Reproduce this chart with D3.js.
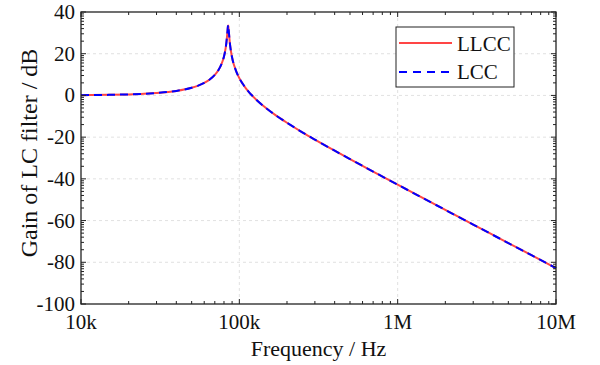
<!DOCTYPE html>
<html>
<head>
<meta charset="utf-8">
<script src="https://cdn.jsdelivr.net/npm/d3@7"></script>
<style>
  html, body { margin: 0; padding: 0; background: #fff; }
  svg { display: block; }
  text { font-family: "Liberation Serif", "Times New Roman", serif; fill: #111; }
</style>
</head>
<body>
<svg id="chart" width="600" height="365"></svg>
<script>
// ---- data ----
const freqHz = [10000, 15000, 20000, 25000, 30000, 40000, 50000, 55000, 60000, 65000, 70000, 74000, 77000, 78500, 80000, 82000, 83000, 84000, 84500, 84750, 85000, 85250, 85500, 86000, 87000, 88000, 90000, 92000, 93000, 96000, 100000, 105000, 110000, 115000, 120000, 130000, 150000, 170000, 200000, 250000, 300000, 400000, 500000, 700000, 1000000, 2000000, 3000000, 5000000, 7000000, 10000000];
const gainLLCC = [0.12, 0.28, 0.50, 0.79, 1.16, 2.17, 3.69, 4.71, 5.99, 7.63, 9.84, 12.3, 14.9, 16.6, 18.7, 22.8, 25.8, 30.0, 32.2, 33.0, 33.5, 33.0, 32.1, 29.8, 25.6, 22.5, 18.2, 15.2, 14.1, 11.2, 8.3, 5.6, 3.4, 1.6, 0.06, -2.54, -6.5, -9.54, -13.1, -17.7, -21.2, -26.5, -30.5, -36.5, -42.8, -54.9, -61.9, -70.8, -76.6, -82.8];
const gainLCC  = [0.12, 0.28, 0.50, 0.79, 1.16, 2.17, 3.69, 4.71, 5.99, 7.63, 9.84, 12.3, 14.9, 16.6, 18.7, 22.8, 25.9, 30.1, 32.4, 33.3, 33.8, 33.2, 32.3, 29.9, 25.6, 22.5, 18.2, 15.2, 14.1, 11.2, 8.3, 5.6, 3.4, 1.6, 0.06, -2.54, -6.5, -9.54, -13.1, -17.7, -21.2, -26.5, -30.5, -36.5, -42.8, -54.9, -61.9, -70.8, -76.6, -82.8];
const xTickValues = [1e4, 1e5, 1e6, 1e7];
const xTickLabels = ["10k", "100k", "1M", "10M"];
const yTickValues = [40, 20, 0, -20, -40, -60, -80, -100];
const seriesNames = ["LLCC", "LCC"];

// ---- layout ----
const svg = d3.select("#chart");
const L = 81, R = 556, T = 12, B = 304;
const x = d3.scaleLog().domain([1e4, 1e7]).range([L, R]);
const y = d3.scaleLinear().domain([-100, 40]).range([B, T]);

// grid
const grid = svg.append("g").attr("stroke", "#d9d9d9").attr("stroke-width", 0.8).attr("stroke-dasharray", "3,3");
xTickValues.slice(1, -1).forEach(v => {
  grid.append("line").attr("x1", x(v)).attr("x2", x(v)).attr("y1", T).attr("y2", B);
});
yTickValues.slice(1, -1).forEach(v => {
  grid.append("line").attr("x1", L).attr("x2", R).attr("y1", y(v)).attr("y2", y(v));
});

// curves
const pts = (g) => freqHz.map((f, i) => [f, g[i]]);
const line = d3.line().x(d => x(d[0])).y(d => y(d[1])).curve(d3.curveMonotoneX);
svg.append("path").datum(pts(gainLLCC)).attr("d", line)
  .attr("fill", "none").attr("stroke", "#ff4545").attr("stroke-width", 2);
svg.append("path").datum(pts(gainLCC)).attr("d", line)
  .attr("fill", "none").attr("stroke", "#0000ff").attr("stroke-width", 2)
  .attr("stroke-dasharray", "8,5");

// axes with inward ticks
const tickG = svg.append("g").attr("stroke", "#222").attr("stroke-width", 1);
const xMinor = [];
for (let e = 4; e < 7; e++) for (let k = 2; k <= 9; k++) xMinor.push(k * Math.pow(10, e));
xTickValues.forEach(v => {
  tickG.append("line").attr("x1", x(v)).attr("x2", x(v)).attr("y1", B).attr("y2", B - 5);
  tickG.append("line").attr("x1", x(v)).attr("x2", x(v)).attr("y1", T).attr("y2", T + 5);
});
xMinor.forEach(v => {
  tickG.append("line").attr("x1", x(v)).attr("x2", x(v)).attr("y1", B).attr("y2", B - 3);
  tickG.append("line").attr("x1", x(v)).attr("x2", x(v)).attr("y1", T).attr("y2", T + 3);
});
const yMinor = [];
yTickValues.slice(0, -1).forEach(top => {
  for (let k = 2; k <= 9; k++) yMinor.push(top - 20 * (1 - Math.log10(k)));
});
yTickValues.forEach(v => {
  tickG.append("line").attr("x1", L).attr("x2", L + 5).attr("y1", y(v)).attr("y2", y(v));
  tickG.append("line").attr("x1", R).attr("x2", R - 5).attr("y1", y(v)).attr("y2", y(v));
});
yMinor.forEach(v => {
  tickG.append("line").attr("x1", L).attr("x2", L + 3).attr("y1", y(v)).attr("y2", y(v));
  tickG.append("line").attr("x1", R).attr("x2", R - 3).attr("y1", y(v)).attr("y2", y(v));
});

// frame
svg.append("rect").attr("x", L).attr("y", T).attr("width", R - L).attr("height", B - T)
  .attr("fill", "none").attr("stroke", "#222").attr("stroke-width", 1.3);

// tick labels
svg.append("g").selectAll("text").data(xTickValues).join("text")
  .attr("x", d => x(d)).attr("y", 329).attr("text-anchor", "middle")
  .attr("font-size", 21).text((d, i) => xTickLabels[i]);
svg.append("g").selectAll("text").data(yTickValues).join("text")
  .attr("x", 75).attr("y", d => y(d) + 7).attr("text-anchor", "end")
  .attr("font-size", 21).text(d => d);

// axis titles
svg.append("text").attr("x", (L + R) / 2).attr("y", 356).attr("text-anchor", "middle")
  .attr("font-size", 22).text("Frequency / Hz");
svg.append("text").attr("transform", "translate(37," + 153 + ") rotate(-90)")
  .attr("text-anchor", "middle").attr("font-size", 24).text("Gain of LC filter / dB");

// legend
const lg = svg.append("g");
lg.append("rect").attr("x", 396).attr("y", 27).attr("width", 118).attr("height", 60)
  .attr("fill", "#fff").attr("stroke", "#222").attr("stroke-width", 1);
lg.append("line").attr("x1", 399).attr("x2", 452).attr("y1", 43).attr("y2", 43)
  .attr("stroke", "#ff4545").attr("stroke-width", 2);
lg.append("line").attr("x1", 399).attr("x2", 452).attr("y1", 72).attr("y2", 72)
  .attr("stroke", "#0000ff").attr("stroke-width", 2).attr("stroke-dasharray", "8,6");
lg.append("text").attr("x", 457).attr("y", 51).attr("font-size", 21).text(seriesNames[0]);
lg.append("text").attr("x", 457).attr("y", 79).attr("font-size", 21).text(seriesNames[1]);
</script>
</body>
</html>
